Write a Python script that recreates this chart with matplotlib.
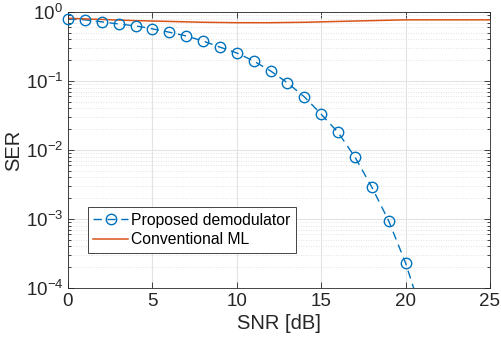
import numpy as np
import matplotlib
matplotlib.use("Agg")
import matplotlib.pyplot as plt
from matplotlib.ticker import LogLocator, NullFormatter, FixedLocator
from matplotlib.lines import Line2D

plt.rcParams['font.family'] = ['Liberation Sans', 'DejaVu Sans']

snr_prop = [0, 1, 2, 3, 4, 5, 6, 7, 8, 9, 10, 11, 12, 13, 14, 15, 16, 17, 18, 19, 20, 21]
ser_prop = [0.79, 0.77, 0.72, 0.67, 0.63, 0.57, 0.51, 0.45, 0.38, 0.31, 0.255,
            0.195, 0.14, 0.094, 0.059, 0.033, 0.018, 0.0079, 0.0029, 0.00094, 0.00023, 0.00004]

snr_ml = [0, 2, 4, 6, 8, 10, 12, 14, 16, 18, 20, 22, 25]
ser_ml = [0.81, 0.78, 0.75, 0.73, 0.71, 0.70, 0.70, 0.71, 0.73, 0.75, 0.77, 0.77, 0.77]

xticks = [0, 5, 10, 15, 20, 25]
blue = '#0072BD'
orange = '#D95319'

fig = plt.figure(figsize=(5.01, 3.48), dpi=100)
ax = fig.add_axes([0.1357, 0.1724, 0.978 - 0.1357, 0.9655 - 0.1724])

dash = (0, (6, 4))
ax.semilogy(snr_prop, ser_prop, linestyle=dash, color=blue, lw=1.0)
ax.semilogy(snr_prop[:-1], ser_prop[:-1], linestyle='none', marker='o', markersize=7.5,
            markerfacecolor='none', markeredgecolor=blue, markeredgewidth=1.0,
            clip_on=False, zorder=3)
ax.semilogy(snr_ml, ser_ml, color=orange, lw=1.1)

handles = [
    Line2D([], [], linestyle=dash, color=blue, lw=1.0, marker='o', markersize=7.5,
           markerfacecolor='none', markeredgecolor=blue, markeredgewidth=1.0),
    Line2D([], [], color=orange, lw=1.1),
]
labels = ['Proposed demodulator', 'Conventional ML']

ax.set_xlim(0, 25)
ax.set_ylim(1e-4, 1)
ax.set_xticks(xticks)
ax.yaxis.set_major_locator(FixedLocator([1e-4, 1e-3, 1e-2, 1e-1, 1]))
ax.yaxis.set_minor_locator(LogLocator(base=10, subs=np.arange(2, 10), numticks=20))
ax.yaxis.set_minor_formatter(NullFormatter())

ax.grid(True, which='major', color='#e3e3e3', lw=0.8, ls='-')
ax.grid(True, which='minor', axis='y', color='#d8d8d8', lw=0.6, ls=(0, (1, 2)))
ax.set_axisbelow(True)

ax.tick_params(which='both', direction='in', top=True, right=True, labelsize=13.5,
               colors='#262626', length=4, width=0.6)
ax.tick_params(which='minor', length=2)
for s in ax.spines.values():
    s.set_color('#262626')
    s.set_linewidth(0.6)

ax.set_xlabel('SNR [dB]', fontsize=14.5, color='#262626', labelpad=3)
ax.set_ylabel('SER', fontsize=14.5, color='#262626', labelpad=2)

leg = ax.legend(handles, labels, loc='lower left', bbox_to_anchor=(0.047, 0.127), fontsize=11.3,
                frameon=True, fancybox=False, edgecolor='#262626', framealpha=1,
                borderpad=0.35, labelspacing=0.3, handlelength=2.2, handletextpad=0.2,
                borderaxespad=0)
leg.get_frame().set_linewidth(0.6)
leg.set_zorder(5)

fig.savefig('out.png', dpi=100)
